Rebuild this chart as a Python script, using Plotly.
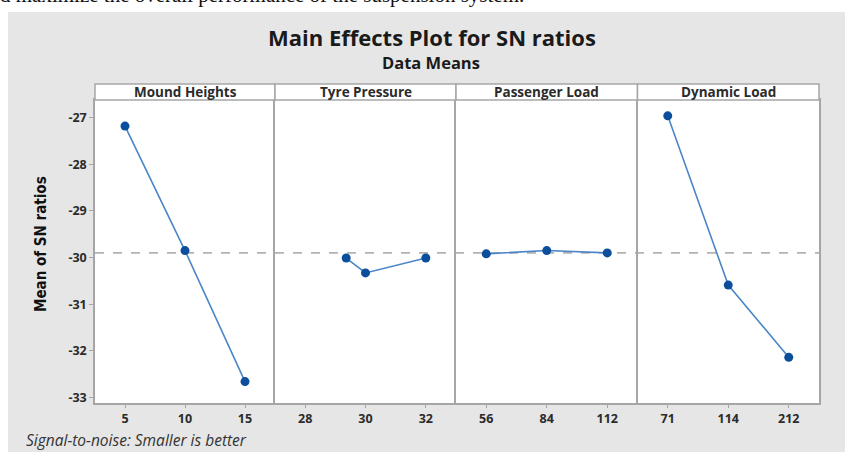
import plotly.graph_objects as go
from plotly.subplots import make_subplots

# Factor levels and mean S/N ratios per level
mound_levels = [5, 10, 15]
mound_sn = [-27.18, -29.85, -32.66]

tyre_levels = [28, 30, 32]
tyre_x = [29.36, 30, 32]
tyre_sn = [-30.01, -30.33, -30.01]

passenger_levels = [56, 84, 112]
passenger_sn = [-29.92, -29.85, -29.90]

dynamic_levels = ["71", "114", "212"]
dynamic_sn = [-26.96, -30.59, -32.14]

factor_names = ["Mound Heights", "Tyre Pressure", "Passenger Load", "Dynamic Load"]
y_ticks = [-27, -28, -29, -30, -31, -32, -33]
y_tick_labels = ["-27", "-28", "-29", "-30", "-31", "-32", "-33"]
overall_mean = -29.90

W, H = 845, 452
LINE = "#4a86c8"
MARK = "#0b4f9c"
FRAME = "#a6a6a6"
TXT = "#2b2b2b"
BG = "#e6e6e6"


def px(x):
    return x / W


def py(y):
    return 1 - y / H


fig = make_subplots(rows=1, cols=4, shared_yaxes=True, horizontal_spacing=0)

series = [
    (mound_levels, mound_sn),
    (tyre_x, tyre_sn),
    (passenger_levels, passenger_sn),
    (dynamic_levels, dynamic_sn),
]
for i, (xs, ys) in enumerate(series, start=1):
    fig.add_trace(
        go.Scatter(
            x=xs, y=ys, mode="lines+markers",
            line=dict(color=LINE, width=1.6),
            marker=dict(color=MARK, size=9, symbol="circle"),
            showlegend=False, hoverinfo="x+y",
        ),
        row=1, col=i,
    )

# Panel edges in pixels
edges = [95, 275, 456, 637.5, 819]
plot_top, plot_bot = 100, 403
strip_top = 84

tick_font = dict(family="Open Sans", size=12.5, color=TXT, weight=700)
x_specs = [
    dict(type="linear", range=[2.5, 17.5], tickvals=mound_levels),
    dict(type="linear", range=[27, 33], tickvals=tyre_levels),
    dict(type="linear", range=[42, 126], tickvals=passenger_levels),
    dict(type="category", range=[-0.5, 2.5]),
]
for i, spec in enumerate(x_specs):
    key = "xaxis" if i == 0 else f"xaxis{i + 1}"
    fig.layout[key].update(
        domain=[px(edges[i]), px(edges[i + 1])],
        showline=True, linecolor=FRAME, linewidth=1.5, mirror=True,
        showgrid=False, zeroline=False, automargin=False,
        ticks="outside", ticklen=3, tickcolor=FRAME,
        tickfont=tick_font, fixedrange=True,
        **spec,
    )
    ykey = "yaxis" if i == 0 else f"yaxis{i + 1}"
    fig.layout[ykey].update(
        domain=[py(plot_bot), py(plot_top)],
        range=[-33.12, -26.62],
        showline=True, linecolor=FRAME, linewidth=1.5,
        mirror=(i == 3), automargin=False,
        showgrid=False, zeroline=False, fixedrange=True,
    )

fig.layout.yaxis.update(
    tickvals=y_ticks, ticktext=y_tick_labels,
    ticks="outside", ticklen=4, tickcolor=FRAME,
    tickfont=tick_font,
)

shapes = [
    # white page margin above and left of the grey chart area
    dict(type="rect", xref="paper", yref="paper",
         x0=0, x1=1, y0=py(12), y1=1,
         fillcolor="white", line=dict(width=0), layer="below"),
    dict(type="rect", xref="paper", yref="paper",
         x0=0, x1=px(8), y0=0, y1=1,
         fillcolor="white", line=dict(width=0), layer="below"),
    # overall mean reference line
    dict(type="line", xref="paper", yref="y",
         x0=px(edges[0]), x1=px(edges[-1]), y0=overall_mean, y1=overall_mean,
         line=dict(color="#b3b3b3", width=1.6, dash="dash"), layer="below"),
]
annotations = []
for i, name in enumerate(factor_names):
    shapes.append(dict(
        type="rect", xref="paper", yref="paper",
        x0=px(edges[i]), x1=px(edges[i + 1]), y0=py(plot_top), y1=py(strip_top),
        fillcolor="white", line=dict(color=FRAME, width=1.5), layer="above",
    ))
    annotations.append(dict(
        text=name, xref="paper", yref="paper",
        x=px((edges[i] + edges[i + 1]) / 2), y=py((plot_top + strip_top) / 2),
        xanchor="center", yanchor="middle", showarrow=False,
        font=dict(family="Open Sans", size=13.5, color=TXT, weight=700),
    ))

annotations += [
    dict(text="d maximize the overall performance of the suspension system.",
         xref="paper", yref="paper", x=px(-2), y=py(9), xanchor="left",
         yanchor="bottom", showarrow=False,
         font=dict(family="Liberation Serif", size=21, color="#111111")),
    dict(text="Main Effects Plot for SN ratios", xref="paper", yref="paper",
         x=px(432), y=py(37.5), xanchor="center", yanchor="middle", showarrow=False,
         font=dict(family="Open Sans", size=22, color="#1a1a1a", weight=700)),
    dict(text="Data Means", xref="paper", yref="paper",
         x=px(431), y=py(63), xanchor="center", yanchor="middle", showarrow=False,
         font=dict(family="Open Sans", size=16.5, color="#1a1a1a", weight=700)),
    dict(text="Mean of SN ratios", xref="paper", yref="paper",
         x=px(41), y=py(244), xanchor="center", yanchor="middle", showarrow=False,
         textangle=-90,
         font=dict(family="DejaVu Sans Condensed, DejaVu Sans", size=15,
                   color="#111111", weight=700)),
    dict(text="Signal-to-noise: Smaller is better", xref="paper", yref="paper",
         x=px(24), y=py(440), xanchor="left", yanchor="middle", showarrow=False,
         font=dict(family="Open Sans", size=15.5, color="#333333", style="italic")),
]

fig.update_layout(
    width=W, height=H,
    margin=dict(l=0, r=0, t=0, b=0),
    paper_bgcolor=BG, plot_bgcolor="white",
    shapes=shapes, annotations=annotations,
    showlegend=False,
)

fig.write_html("out.html", config={"displayModeBar": False})
